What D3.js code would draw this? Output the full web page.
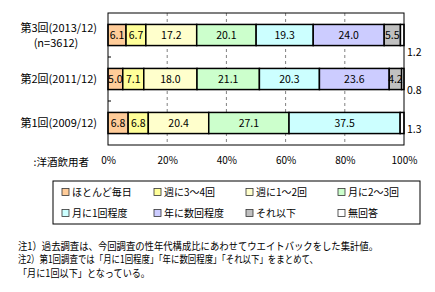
<!DOCTYPE html>
<html>
<head>
<meta charset="utf-8">
<script src="https://cdn.jsdelivr.net/npm/d3@7"></script>
<style>
    body { margin: 0; background: #fff; }
    svg { display: block; font-family: "Noto Sans CJK JP", "Noto Sans", sans-serif; }
</style>
</head>
<body>
<div id="chart"></div>
<script>
'use strict';
// surveys, top to bottom
var rounds = ["第3回(2013/12)", "第2回(2011/12)", "第1回(2009/12)"];
var roundNotes = ["(n=3612)", "", ""];
var series = ["ほとんど毎日", "週に3～4回", "週に1～2回", "月に2～3回",
    "月に1回程度", "年に数回程度", "それ以下", "無回答"];
var seriesColors = ["#FFCC99", "#FFFF99", "#FFFFCC", "#CCFFCC",
    "#CCFFFF", "#CCCCFF", "#C0C0C0", "#FFFFFF"];
// one row per round, one value per series (%)
var round3 = [6.1, 6.7, 17.2, 20.1, 19.3, 24.0, 5.5, 1.2];
var round2 = [5.0, 7.1, 18.0, 21.1, 20.3, 23.6, 4.2, 0.8];
var round1 = [6.8, 6.8, 20.4, 27.1, 37.5, 0, 0, 1.3];
var tickValues = [0, 0.2, 0.4, 0.6, 0.8, 1];
var unitLabel = ":洋酒飲用者";
var notes = [
    "注1）過去調査は、今回調査の性年代構成比にあわせてウエイトバックをした集計値。",
    "注2）第1回調査では「月に1回程度」「年に数回程度」「それ以下」をまとめて、",
    "「月に1回以下」となっている。"
];

var W = 435, H = 292;
var plot = {left: 108, right: 404, top: 13, bottom: 145};

var svg = d3.select("#chart").append("svg")
    .attr("width", W)
    .attr("height", H);

var x = d3.scaleLinear().domain([0, 1]).range([plot.left, plot.right]);
var y = d3.scaleBand()
    .domain(rounds)
    .range([plot.top, plot.bottom])
    .paddingInner(0.52)
    .paddingOuter(0.26);

// build stacked rows, normalised to 100%
var rows = [round3, round2, round1].map(function (vals, i) {
    var total = d3.sum(vals);
    var acc = 0;
    return vals.map(function (v, j) {
        var seg = {round: rounds[i], series: j, value: v, x0: acc / total, x1: (acc + v) / total};
        acc += v;
        return seg;
    });
});

// dashed grid lines
svg.append("g")
    .selectAll("line")
    .data(tickValues.slice(1, -1))
    .enter().append("line")
    .attr("x1", function (d) { return x(d); })
    .attr("x2", function (d) { return x(d); })
    .attr("y1", plot.top)
    .attr("y2", plot.bottom)
    .attr("stroke", "#808080")
    .attr("stroke-dasharray", "3,3");

// bars
var segs = svg.append("g")
    .selectAll("g")
    .data(rows)
    .enter().append("g")
    .selectAll("rect")
    .data(function (d) { return d.filter(function (s) { return s.value > 0; }); })
    .enter();

segs.append("rect")
    .attr("x", function (d) { return x(d.x0); })
    .attr("y", function (d) { return y(d.round); })
    .attr("width", function (d) { return x(d.x1) - x(d.x0); })
    .attr("height", y.bandwidth())
    .attr("fill", function (d) { return seriesColors[d.series]; })
    .attr("stroke", "#000")
    .attr("stroke-width", 1.5);

// labels inside the bars
segs.filter(function (d) { return d.series < series.length - 1; })
    .append("text")
    .attr("x", function (d) { return (x(d.x0) + x(d.x1)) / 2; })
    .attr("y", function (d) { return y(d.round) + y.bandwidth() / 2; })
    .attr("dy", "0.35em")
    .attr("text-anchor", "middle")
    .attr("font-size", 10.5)
    .text(function (d) { return d.value.toFixed(1); });

// no-answer labels outside the plot
var outsideShift = [17, 11, 6];
segs.filter(function (d) { return d.series === series.length - 1; })
    .append("text")
    .attr("x", plot.right + 3)
    .attr("y", function (d) { return y(d.round) + y.bandwidth() / 2 + outsideShift[rounds.indexOf(d.round)]; })
    .attr("dy", "0.35em")
    .attr("font-size", 10.5)
    .text(function (d) { return d.value.toFixed(1); });

// plot frame
svg.append("rect")
    .attr("x", plot.left)
    .attr("y", plot.top)
    .attr("width", plot.right - plot.left)
    .attr("height", plot.bottom - plot.top)
    .attr("fill", "none")
    .attr("stroke", "#000");

// small ticks between categories on the left axis
svg.append("g")
    .selectAll("line")
    .data(rounds.slice(1))
    .enter().append("line")
    .attr("x1", plot.left)
    .attr("x2", plot.left + 3)
    .attr("y1", function (d) { return y(d) - y.step() * y.paddingInner() / 2; })
    .attr("y2", function (d) { return y(d) - y.step() * y.paddingInner() / 2; })
    .attr("stroke", "#000");

// category labels
var catLabels = svg.append("g")
    .selectAll("g")
    .data(rounds)
    .enter().append("g");

catLabels.append("text")
    .attr("x", 97)
    .attr("y", function (d, i) { return y(d) + y.bandwidth() / 2 - (roundNotes[i] ? 7 : 0); })
    .attr("dy", "0.35em")
    .attr("text-anchor", "end")
    .attr("font-size", 11)
    .text(function (d) { return d; });

catLabels.append("text")
    .attr("x", 56)
    .attr("y", function (d, i) { return y(d) + y.bandwidth() / 2 + 8; })
    .attr("dy", "0.35em")
    .attr("text-anchor", "middle")
    .attr("font-size", 11)
    .text(function (d, i) { return roundNotes[i]; });

// percent axis labels
var axis = d3.axisBottom(x)
    .tickValues(tickValues)
    .tickSize(0)
    .tickPadding(0)
    .tickFormat(d3.format(".0%"));

var axisG = svg.append("g")
    .attr("transform", "translate(0,157)")
    .call(axis);
axisG.select(".domain").remove();
axisG.selectAll("text")
    .attr("font-family", "\"Noto Sans CJK JP\", sans-serif")
    .attr("font-size", 10)
    .attr("fill", "#000");

svg.append("text")
    .attr("x", 89)
    .attr("y", 162)
    .attr("dy", "0.35em")
    .attr("text-anchor", "end")
    .attr("font-size", 10.5)
    .text(unitLabel);

// legend
var legend = svg.append("g");
legend.append("rect")
    .attr("x", 53)
    .attr("y", 181)
    .attr("width", 367)
    .attr("height", 43)
    .attr("fill", "#fff")
    .attr("stroke", "#000");

var item = legend.selectAll("g.item")
    .data(series)
    .enter().append("g")
    .attr("class", "item")
    .attr("transform", function (d, i) {
        return "translate(" + (62 + (i % 4) * 92) + "," + (192 + Math.floor(i / 4) * 21) + ")";
    });

item.append("rect")
    .attr("x", 0)
    .attr("y", -3.5)
    .attr("width", 7)
    .attr("height", 7)
    .attr("fill", function (d, i) { return seriesColors[i]; })
    .attr("stroke", "#333")
    .attr("stroke-width", 0.8);

item.append("text")
    .attr("x", 10)
    .attr("y", 0)
    .attr("dy", "0.35em")
    .attr("font-size", 10)
    .text(function (d) { return d; });

// footnotes
var noteWidths = [360, 300, 132];
svg.append("g")
    .selectAll("text")
    .data(notes)
    .enter().append("text")
    .attr("x", 18)
    .attr("y", function (d, i) { return 246 + i * 13.5; })
    .attr("dy", "0.35em")
    .attr("font-size", 10.5)
    .attr("textLength", function (d, i) { return noteWidths[i]; })
    .attr("lengthAdjust", "spacingAndGlyphs")
    .text(function (d) { return d; });
</script>
</body>
</html>
